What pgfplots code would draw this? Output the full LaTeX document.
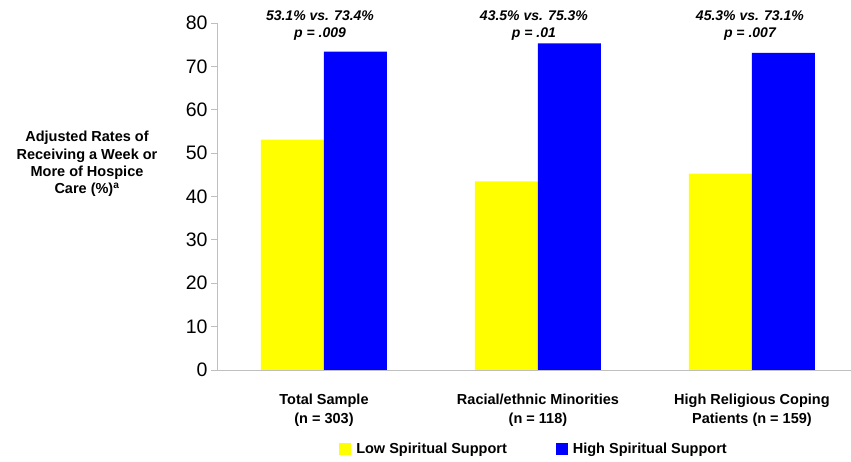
\documentclass[border=0pt]{standalone}
\usepackage{pgfplots}
\pgfplotsset{compat=1.18}
\usepackage{fontspec}
\setmainfont{Liberation Sans}
\definecolor{axgray}{HTML}{BFBFBF}
\definecolor{byellow}{HTML}{FFFF00}
\definecolor{bblue}{HTML}{0000FF}
\begin{document}
\begin{tikzpicture}
\path[use as bounding box] (-217pt,-92pt) rectangle (634pt,370pt);
\begin{axis}[
  at={(0pt,0pt)}, anchor=south west,
  scale only axis,
  width=634pt, height=347pt,
  xmin=-0.5, xmax=2.463,
  ymin=0, ymax=80,
  ytick={0,10,...,80},
  xtick={0,1,2},
  xticklabels={{Total Sample\\(n = 303)},{Racial/ethnic Minorities\\(n = 118)},{High Religious Coping\\Patients (n = 159)}},
  xticklabel style={align=center, font=\bfseries\fontsize{14.5}{19}\selectfont, yshift=-14pt},
  major x tick style={draw=none},
  extra x ticks={-0.5,0.5,1.5,2.5},
  extra x tick labels={},
  extra x tick style={major tick length=6pt, tick style={draw=axgray, line width=0.8pt}},
  axis x line*=bottom, axis y line*=left,
  axis line style={draw=axgray, line width=0.8pt, -},
  tick align=outside,
  major tick length=6pt,
  y tick style={draw=axgray, line width=0.8pt},
  /pgf/number format/assume math mode=true,
  yticklabel style={font=\fontsize{19.5}{20}\selectfont, xshift=0pt},
  ybar=0pt, bar width=63pt,
  clip=false,
  legend style={draw=none, at={(0.5,0)}, anchor=center, yshift=-79pt, legend columns=2,
    font=\bfseries\fontsize{14.5}{17}\selectfont,
    /tikz/every odd column/.append style={column sep=3pt},
    /tikz/every even column/.append style={column sep=47pt},
    inner sep=0pt},
  legend image code/.code={\fill[#1] (0pt,-6pt) rectangle (12pt,6pt);},
]
\addplot[fill=byellow, draw=none] coordinates {(0,53.1) (1,43.5) (2,45.3)};
\addplot[fill=bblue, draw=none] coordinates {(0,73.4) (1,75.3) (2,73.1)};
\legend{Low Spiritual Support, High Spiritual Support}
\node[align=center, font=\bfseries\itshape\fontsize{14}{17}\selectfont, xshift=-4pt, yshift=-3pt] at (axis cs:0,80) {53.1\% vs. 73.4\%\\p = .009};
\node[align=center, font=\bfseries\itshape\fontsize{14}{17}\selectfont, xshift=-4pt, yshift=-3pt] at (axis cs:1,80) {43.5\% vs. 75.3\%\\p = .01};
\node[align=center, font=\bfseries\itshape\fontsize{14}{17}\selectfont, xshift=-2pt, yshift=-3pt] at (axis cs:2,80) {45.3\% vs. 73.1\%\\p = .007};
\end{axis}
\node[align=center, font=\bfseries\fontsize{14.5}{17.3}\selectfont] at (-130pt,206pt) {Adjusted Rates of\\Receiving a Week or\\More of Hospice\\Care (\%)\textsuperscript{a}};
\end{tikzpicture}
\end{document}
